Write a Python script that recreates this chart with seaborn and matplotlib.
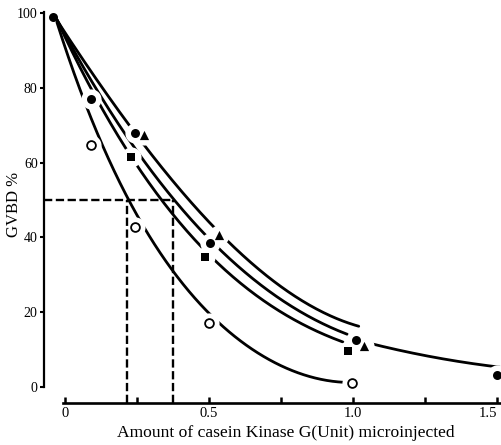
import numpy as np
import pandas as pd
import matplotlib
matplotlib.use("Agg")
import matplotlib.pyplot as plt
import seaborn as sns

circle_x = [-0.04, 0.09, 0.243, 0.503, 1.01, 1.5]
circle_y = [99.0, 77.0, 68.0, 38.5, 12.6, 3.2]
triangle_x = [0.274, 0.535, 1.04]
triangle_y = [67.4, 40.6, 11.0]
square_x = [0.229, 0.486, 0.983]
square_y = [61.5, 34.8, 9.6]
open_x = [0.09, 0.243, 0.5, 0.997]
open_y = [64.7, 42.8, 17.1, 1.0]

# ---- hand-drawn fit curves ----
top_curve_x = [-0.028, 0.174, 0.271, 0.365, 0.5625, 0.771, 0.885, 1.02]
top_curve_y = [97.6, 76.7, 64.7, 55.3, 38.5, 26.5, 20.6, 15.9]
mid_curve_x = [-0.028, 0.146, 0.319, 0.497, 0.521, 0.771, 0.98]
mid_curve_y = [97.6, 76.7, 55.3, 39.3, 37.2, 23.8, 13.6]
low_curve_x = [-0.028, 0.121, 0.229, 0.288, 0.479, 0.538, 0.771, 0.965]
low_curve_y = [97.6, 76.7, 61.5, 55.3, 36.1, 31.8, 20.6, 11.5]
open_curve_x = [-0.028, 0.04, 0.201, 0.375, 0.486, 0.545, 0.712, 0.885, 0.965]
open_curve_y = [97.6, 82.0, 52.7, 31.8, 20.6, 16.0, 7.2, 2.4, 1.1]
tail_curve_x = [1.052, 1.278, 1.51]
tail_curve_y = [11.8, 8.0, 5.3]

# ---- 50 % levels ----
half_level = 50
half_x = [0.215, 0.375]

x_ticks = [0, 0.5, 1.0, 1.5]
x_ticklabels = ["0", "0.5", "1.0", "1.5"]
x_minor = [0.25, 0.75, 1.25]
y_ticks = [0, 20, 40, 60, 80, 100]
y_ticklabels = ["0", "20", "40", "60", "80", "100"]

sns.set_theme(style="ticks")
plt.rcParams["font.family"] = ["Liberation Serif", "DejaVu Serif"]
for k in ["text.color", "axes.labelcolor", "xtick.color", "ytick.color", "axes.edgecolor"]:
    plt.rcParams[k] = "black"

fig = plt.figure(figsize=(5.01, 4.45), dpi=100)
ax = fig.add_axes([44 / 501, 42 / 445, 457 / 501, 393 / 445])
XMIN, XMAX = -0.0729, 1.514
YMIN, YMAX = -4.28, 100.8
ax.set_xlim(XMIN, XMAX)
ax.set_ylim(YMIN, YMAX)

# curves
for kx, ky, deg in [(top_curve_x, top_curve_y, 3), (mid_curve_x, mid_curve_y, 3),
                    (low_curve_x, low_curve_y, 3), (open_curve_x, open_curve_y, 4),
                    (tail_curve_x, tail_curve_y, 2)]:
    coef = np.polyfit(kx, ky, deg)
    xs = np.linspace(min(kx), max(kx), 300)
    ys = np.polyval(coef, xs)
    sns.lineplot(x=xs, y=ys, ax=ax, color="black", lw=2.0, zorder=2,
                 sort=False, estimator=None)

# white halos (gaps in lines around markers)
halo_x = circle_x[1:] + triangle_x + square_x + open_x
halo_y = circle_y[1:] + triangle_y + square_y + open_y
sns.scatterplot(x=halo_x, y=halo_y, ax=ax, marker="o", s=210, color="white",
                linewidth=0, zorder=3)

# dashed guide lines
ax.hlines(half_level, XMIN, max(half_x), colors="black", lw=1.7,
          linestyles=(0, (3.5, 1.5)), zorder=3.5)
ax.vlines(half_x, YMIN, half_level, colors="black", lw=1.7,
          linestyles=(0, (3.5, 1.5)), zorder=3.5)

# markers
sns.scatterplot(x=circle_x, y=circle_y, ax=ax, marker="o", s=42, color="black",
                linewidth=0, zorder=4)
sns.scatterplot(x=triangle_x, y=triangle_y, ax=ax, marker="^", s=44, color="black",
                linewidth=0, zorder=4)
sns.scatterplot(x=square_x, y=square_y, ax=ax, marker="s", s=32, color="black",
                linewidth=0, zorder=4)
sns.scatterplot(x=open_x, y=open_y, ax=ax, marker="o", s=40, color="white",
                edgecolor="black", linewidth=1.3, zorder=4)

# axes styling
ax.spines["top"].set_visible(False)
ax.spines["right"].set_visible(False)
ax.spines["left"].set_bounds(0, 100.3)
ax.spines["left"].set_linewidth(1.6)
ax.spines["bottom"].set_bounds(-0.007, XMAX)
ax.spines["bottom"].set_linewidth(1.9)

ax.set_xticks(x_ticks)
ax.set_xticklabels(x_ticklabels)
ax.set_xticks(x_minor, minor=True)
ax.set_yticks(y_ticks)
ax.set_yticklabels(y_ticklabels)
ax.tick_params(axis="x", which="both", direction="in", length=4, width=1.8,
               pad=3, labelsize=10.5)
ax.tick_params(axis="y", which="both", direction="out", length=3, width=1.5,
               pad=1.5, labelsize=10)
ax.get_xticklabels()[-1].set_ha("right")

ax.set_xlabel("Amount of casein Kinase G(Unit) microinjected", fontsize=12.6)
ax.xaxis.set_label_coords(0.53, -0.076)
ax.xaxis.label.set_va("center")
ax.set_ylabel("GVBD %", fontsize=12)
ax.yaxis.set_label_coords(-0.066, 0.504)
ax.yaxis.label.set_va("center")

fig.savefig("out.png", dpi=100)
